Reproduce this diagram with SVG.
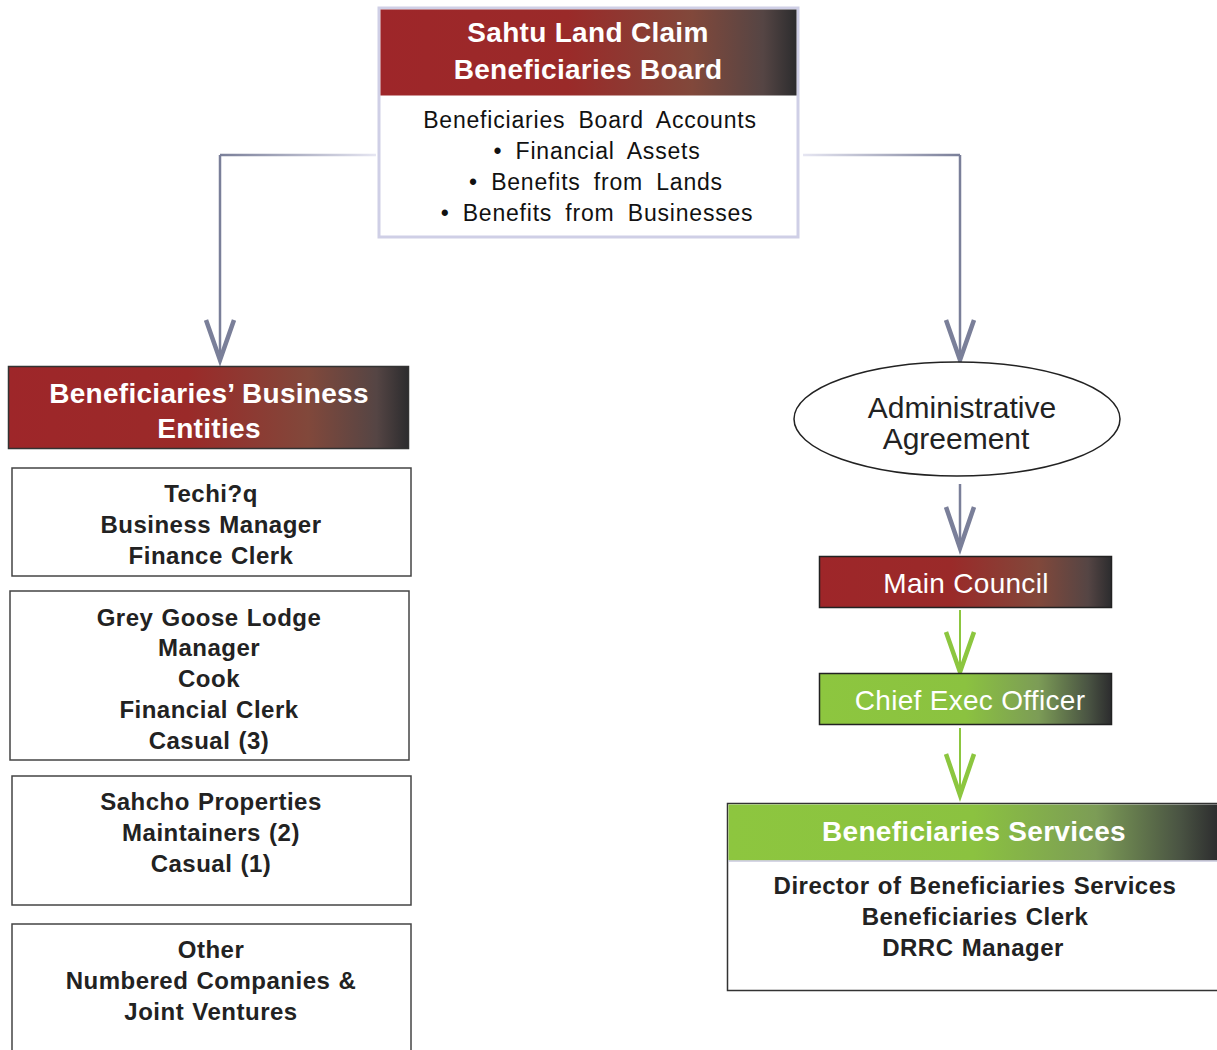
<svg xmlns="http://www.w3.org/2000/svg" width="1217" height="1050" viewBox="0 0 1217 1050">
<defs>
<linearGradient id="red" x1="0" y1="0" x2="1" y2="0">
<stop offset="0" stop-color="#9e2629"/>
<stop offset="0.45" stop-color="#9a2a29"/>
<stop offset="0.75" stop-color="#81483b"/>
<stop offset="0.92" stop-color="#554544"/>
<stop offset="1" stop-color="#2c2c2e"/>
</linearGradient>
<linearGradient id="green" x1="0" y1="0" x2="1" y2="0">
<stop offset="0" stop-color="#8dc63f"/>
<stop offset="0.5" stop-color="#8bc240"/>
<stop offset="0.75" stop-color="#7c9c56"/>
<stop offset="0.92" stop-color="#4a5443"/>
<stop offset="1" stop-color="#2c2c2e"/>
</linearGradient>
<linearGradient id="lineL" gradientUnits="userSpaceOnUse" x1="376" y1="0" x2="220" y2="0">
<stop offset="0" stop-color="#e6e6f2"/>
<stop offset="1" stop-color="#7a7f99"/>
</linearGradient>
<linearGradient id="lineR" gradientUnits="userSpaceOnUse" x1="803" y1="0" x2="960" y2="0">
<stop offset="0" stop-color="#e6e6f2"/>
<stop offset="1" stop-color="#7a7f99"/>
</linearGradient>
</defs>
<style>
.hdr{font-family:"Liberation Sans",Arial,sans-serif;font-weight:bold;font-size:28px;letter-spacing:0.3px;fill:#fff;text-anchor:middle}
.bd{font-family:"Liberation Sans",Arial,sans-serif;font-size:23px;letter-spacing:0.8px;fill:#111;text-anchor:middle;word-spacing:6px}
.bb{font-family:"Liberation Sans",Arial,sans-serif;font-weight:bold;font-size:24px;letter-spacing:0.5px;fill:#222;text-anchor:middle;word-spacing:1px}
.box{fill:#fff;stroke:#444;stroke-width:1.5}
.sm{font-family:"Liberation Sans",Arial,sans-serif;font-size:28px;letter-spacing:0.3px;fill:#fff;text-anchor:middle}
.gl{stroke:#7a7f99;stroke-width:2.5;fill:none}
.gh{stroke:#7a7f99;stroke-width:4.5;fill:none;stroke-linejoin:miter}
.nl{stroke:#8cc63f;stroke-width:2;fill:none}
.nh{stroke:#8cc63f;stroke-width:4.5;fill:none}
</style>

<g id="connectors">
<line x1="376" y1="155" x2="220" y2="155" stroke="url(#lineL)" stroke-width="2.5"/>
<line class="gl" x1="220" y1="155" x2="220" y2="360"/>
<polyline class="gh" points="206,320 220,360 234,320"/>
<line x1="803" y1="155" x2="960" y2="155" stroke="url(#lineR)" stroke-width="2.5"/>
<line class="gl" x1="960" y1="155" x2="960" y2="360"/>
<polyline class="gh" points="946,320 960,360 974,320"/>
<line class="gl" x1="960" y1="484" x2="960" y2="548" stroke-width="1.5"/>
<polyline class="gh" points="946,507 960,548 974,507"/>
<line class="nl" x1="960" y1="610" x2="960" y2="672" stroke-width="1.5"/>
<polyline class="nh" points="946,632 960,672 974,632"/>
<line class="nl" x1="960" y1="728" x2="960" y2="795" stroke-width="1.5"/>
<polyline class="nh" points="946,754 960,795 974,754"/>
</g>

<g id="board">
<rect x="379" y="8" width="419" height="229" fill="#fff" stroke="#cfcfe6" stroke-width="3"/>
<rect x="380.5" y="9.5" width="416" height="86" fill="url(#red)"/>
<text class="hdr" x="588" y="42">Sahtu Land Claim</text>
<text class="hdr" x="588" y="79">Beneficiaries Board</text>
<text class="bd" x="590" y="128">Beneficiaries Board Accounts</text>
<text class="bd" x="597" y="159">• Financial Assets</text>
<text class="bd" x="596" y="190">• Benefits from Lands</text>
<text class="bd" x="597" y="221">• Benefits from Businesses</text>
</g>

<g id="business-entities">
<rect x="8.5" y="366.5" width="400" height="82" fill="url(#red)" stroke="#333" stroke-width="1.5"/>
<text class="hdr" x="209" y="403">Beneficiaries’ Business</text>
<text class="hdr" x="209" y="438">Entities</text>
</g>

<g id="techiq">
<rect class="box" x="12" y="468" width="399" height="108"/>
<text class="bb" x="211" y="502">Techi?q</text>
<text class="bb" x="211" y="533">Business  Manager</text>
<text class="bb" x="211" y="564">Finance Clerk</text>
</g>

<g id="grey-goose">
<rect class="box" x="10" y="591" width="399" height="169"/>
<text class="bb" x="209" y="626">Grey Goose Lodge</text>
<text class="bb" x="209" y="656">Manager</text>
<text class="bb" x="209" y="687">Cook</text>
<text class="bb" x="209" y="718">Financial Clerk</text>
<text class="bb" x="209" y="749">Casual (3)</text>
</g>

<g id="sahcho">
<rect class="box" x="12" y="776" width="399" height="129"/>
<text class="bb" x="211" y="810">Sahcho Properties</text>
<text class="bb" x="211" y="841">Maintainers (2)</text>
<text class="bb" x="211" y="872">Casual (1)</text>
</g>

<g id="other">
<rect class="box" x="12" y="924" width="399" height="140"/>
<text class="bb" x="211" y="958">Other</text>
<text class="bb" x="211" y="989">Numbered Companies &amp;</text>
<text class="bb" x="211" y="1020">Joint Ventures</text>
</g>

<g id="admin-agreement">
<ellipse cx="957" cy="419" rx="163" ry="57" fill="#fff" stroke="#222" stroke-width="1.5"/>
<text x="962" y="418" font-family="Liberation Sans, Arial, sans-serif" font-size="30" fill="#222" text-anchor="middle">Administrative</text>
<text x="956" y="449" font-family="Liberation Sans, Arial, sans-serif" font-size="30" fill="#222" text-anchor="middle">Agreement</text>
</g>

<g id="main-council">
<rect x="819.5" y="556.5" width="292" height="51" fill="url(#red)" stroke="#222" stroke-width="1.5"/>
<text class="sm" x="966" y="593">Main Council</text>
</g>

<g id="ceo">
<rect x="819.5" y="673.5" width="292" height="51" fill="url(#green)" stroke="#222" stroke-width="1.5"/>
<text class="sm" x="970" y="710">Chief Exec Officer</text>
</g>

<g id="beneficiaries-services">
<rect x="727.5" y="803.5" width="500" height="187" fill="#fff" stroke="#333" stroke-width="1.5"/>
<rect x="728.5" y="804.5" width="490" height="56" fill="url(#green)"/>
<line x1="728" y1="861" x2="1217" y2="861" stroke="#c8c8dc" stroke-width="1.5"/>
<text class="hdr" x="974" y="841">Beneficiaries Services</text>
<text class="bb" x="975" y="894">Director of Beneficiaries Services</text>
<text class="bb" x="975" y="925">Beneficiaries Clerk</text>
<text class="bb" x="973" y="956">DRRC Manager</text>
</g>
</svg>
